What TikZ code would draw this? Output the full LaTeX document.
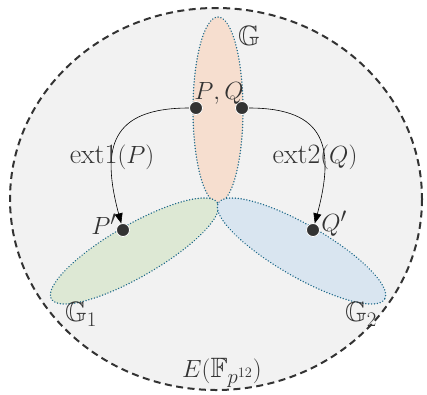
\documentclass[tikz,border=0pt]{standalone}
\usepackage{amssymb}
\usetikzlibrary{arrows.meta}
\definecolor{bgray}{HTML}{F2F2F2}
\definecolor{gor}{HTML}{F6DECF}
\definecolor{ggr}{HTML}{DDE8D4}
\definecolor{gbl}{HTML}{D9E5F0}
\definecolor{edgec}{HTML}{1F6A8A}
\definecolor{txt}{HTML}{333333}
\definecolor{ptc}{HTML}{333333}
\tikzset{
  region/.style={draw=edgec, line width=1.5pt, dash pattern=on 0.1pt off 2.8pt, line cap=round},
  pt/.style={circle, fill=ptc, draw=white, line width=0.8pt, inner sep=0pt, minimum size=13pt},
  lbl/.style={text=txt, font=\fontsize{28}{32}\selectfont, inner sep=0pt},
  arr/.style={-{Triangle[length=10pt,width=8pt]}, line width=0.6pt, black}
}
\begin{document}
\begin{tikzpicture}[x=1pt,y=-1pt]
\useasboundingbox (0,0) rectangle (427,394);
% outer dashed ellipse
\draw[fill=bgray, draw=txt, line width=2pt, dash pattern=on 7pt off 4.5pt] (216,199) ellipse[x radius=206, y radius=191];
% regions
\path[region, fill=gor] (218,110) ellipse[x radius=25, y radius=93];
\path[region, fill=ggr] (134.5,251) [rotate around={30:(134.5,251)}] ellipse[x radius=96, y radius=26];
\path[region, fill=gbl] (301.5,251) [rotate around={-30:(301.5,251)}] ellipse[x radius=96, y radius=26];
% points
\node[pt] (P) at (196,108) {};
\node[pt] (Q) at (242,108) {};
\node[pt] (Pp) at (123,230) {};
\node[pt] (Qp) at (313,230) {};
% arrows
\draw[arr] (P) to[out=180,in=105,looseness=1.5] (Pp);
\draw[arr] (Q) to[out=0,in=75,looseness=1.5] (Qp);
% labels
\node[lbl] (lG) at (249,36) {$\mathbb{G}$};
\node[lbl] (lPQ) at (219,93) {$P{,}\,Q$};
\node[lbl] (lext1) at (112,157) {ext1$(P)$};
\node[lbl] (lext2) at (315,157) {ext2$(Q)$};
\node[lbl] (lPp) at (104,224) {$P'$};
\node[lbl] (lQp) at (334,224) {$Q'$};
\node[lbl] (lG1) at (81,314) {$\mathbb{G}_1$};
\node[lbl] (lG2) at (361,314) {$\mathbb{G}_2$};
\node[lbl] (lE) at (222,373) {$E(\mathbb{F}_{p^{12}})$};
\end{tikzpicture}
\end{document}
